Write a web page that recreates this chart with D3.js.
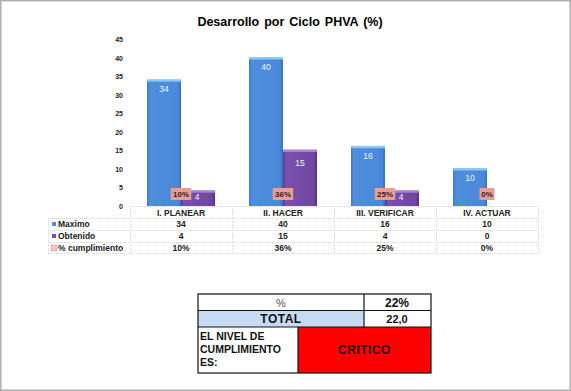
<!DOCTYPE html>
<html><head><meta charset="utf-8">
<script src="https://cdn.jsdelivr.net/npm/d3@7"></script>
<style>body{margin:0;background:#fff}svg{display:block;font-family:"Liberation Sans",Arial,sans-serif}</style>
</head><body><svg id="c" width="571" height="391"></svg>
<script>
const categories = ["I. PLANEAR","II. HACER","III. VERIFICAR","IV. ACTUAR"];
const maximo = [34,40,16,10];
const obtenido = [4,15,4,0];
const cumplimiento = [10,36,25,0];
const yTicks = [0,5,10,15,20,25,30,35,40,45];
const seriesNames = ["Maximo","Obtenido","% cumplimiento"];
const summaryPct = "22%";
const summaryTotal = "22,0";
const nivel = "CRITICO";

const svg = d3.select("#c");
const defs = svg.append("defs");
function grad(id, stops){
  const g = defs.append("linearGradient").attr("id",id).attr("x1","0").attr("x2","1").attr("y1","0").attr("y2","0");
  stops.forEach(s=>g.append("stop").attr("offset",s[0]).attr("stop-color",s[1]));
}
grad("gBlue",[[0,"#3b78c8"],[0.08,"#4f8edd"],[0.9,"#4a89d9"],[1,"#3670bf"]]);
grad("gPurp",[[0,"#5e3590"],[0.08,"#7a50ad"],[0.9,"#6f46a0"],[1,"#573083"]]);

svg.append("rect").attr("x",0.75).attr("y",0.75).attr("width",569.5).attr("height",389.5).attr("fill","#fff").attr("stroke","#b0b0b0").attr("stroke-width",1.5);

svg.append("text").attr("x",290).attr("y",26).attr("text-anchor","middle").attr("font-size",12.5).attr("font-weight","bold").attr("word-spacing","1.5px").text("Desarrollo por Ciclo PHVA (%)");

const x = d3.scaleBand().domain(categories).range([130,538]);
const xs = d3.scaleBand().domain(["Maximo","Obtenido"]).range([0,x.bandwidth()]).paddingInner(0).paddingOuter(0.5);
const y = d3.scaleLinear().domain([0,45]).range([206,39.5]);

const yAxis = d3.axisLeft(y).tickValues(yTicks).tickSize(0).tickPadding(0);
const ga = svg.append("g").attr("transform","translate(123,0)").call(yAxis);
ga.select(".domain").remove();
ga.selectAll("text").attr("font-size",7).attr("font-weight","bold").attr("fill","#222").attr("font-family","'Liberation Sans',Arial,sans-serif");

function drawBars(vals, name, fill, topc){
  const g = svg.append("g");
  categories.forEach((c,i)=>{
    const v = vals[i];
    const x0 = x(c)+xs(name), w = xs.bandwidth();
    const y0 = y(v), h = y(0)-y(v);
    if (h>0){
      g.append("rect").attr("x",x0).attr("y",y0).attr("width",w).attr("height",h).attr("fill",fill);
      g.append("rect").attr("x",x0).attr("y",y0-1).attr("width",w).attr("height",2.5).attr("fill",topc);
    }
  });
}
drawBars(maximo,"Maximo","url(#gBlue)","#86c9f4");
drawBars(obtenido,"Obtenido","url(#gPurp)","#a982d6");

categories.forEach((c,i)=>{
  svg.append("text").attr("x",x(c)+xs("Maximo")+xs.bandwidth()/2).attr("y",y(maximo[i])+12)
    .attr("text-anchor","middle").attr("font-size",8.5).attr("fill","#f2f6ff").text(maximo[i]);
  if (obtenido[i]>0)
    svg.append("text").attr("x",x(c)+xs("Obtenido")+xs.bandwidth()/2+(obtenido[i]<6?-1:0)).attr("y",y(obtenido[i])+(obtenido[i]<6?9:15))
      .attr("text-anchor","middle").attr("font-size",8.5).attr("fill","#f2f6ff").text(obtenido[i]);
});
categories.forEach((c,i)=>{
  const cx = x(c)+x.bandwidth()/2;
  const t = cumplimiento[i]+"%";
  const w = t.length*5.5+4;
  svg.append("rect").attr("x",cx-w/2).attr("y",y(0)-18).attr("width",w).attr("height",12).attr("fill","#e59f98");
  svg.append("text").attr("x",cx).attr("y",y(0)-9).attr("text-anchor","middle").attr("font-size",8).attr("font-weight","bold").attr("fill","#3a2020").text(t);
});

const rowsY = [206,218,230,242,253];
const tg = svg.append("g").attr("stroke","#d4d4d4").attr("stroke-width",1).attr("stroke-dasharray","1,1");
rowsY.forEach((ry,k)=>{
  tg.append("line").attr("x1",k===0?130:48).attr("x2",538).attr("y1",ry+0.5).attr("y2",ry+0.5);
});
[130,232,334,436,538].forEach(vx=>tg.append("line").attr("x1",vx+0.5).attr("x2",vx+0.5).attr("y1",206).attr("y2",253));
tg.append("line").attr("x1",48.5).attr("x2",48.5).attr("y1",218).attr("y2",253);

categories.forEach((c,i)=>{
  const cx = x(c)+x.bandwidth()/2;
  svg.append("text").attr("x",cx).attr("y",215.5).attr("text-anchor","middle").attr("font-size",8.5).attr("font-weight","bold").attr("fill","#222").text(c);
  [maximo[i],obtenido[i],cumplimiento[i]+"%"].forEach((v,r)=>{
    svg.append("text").attr("x",cx).attr("y",rowsY[r+1]+9).attr("text-anchor","middle").attr("font-size",8.5).attr("font-weight","bold").attr("fill","#222").text(v);
  });
});
const keyCol = ["#4a8ee0","#7b4bb0"];
seriesNames.forEach((s,r)=>{
  const ry = rowsY[r+1];
  if (r<2) svg.append("rect").attr("x",52).attr("y",ry+4).attr("width",4).attr("height",4).attr("fill",keyCol[r]);
  else svg.append("rect").attr("x",51).attr("y",ry+3).attr("width",6).attr("height",6).attr("fill","#f2c4c4").attr("stroke","#d88").attr("stroke-width",0.5);
  svg.append("text").attr("x",58).attr("y",ry+9).attr("font-size",8.5).attr("font-weight","bold").attr("fill","#222")
    .attr("xml:space","preserve").text(r===2?"% cumplimiento":s);
});

const S = svg.append("g");
S.append("rect").attr("x",198).attr("y",327).attr("width",100).attr("height",46).attr("fill","#fff");
S.append("rect").attr("x",198).attr("y",310.5).attr("width",166).attr("height",16.5).attr("fill","#c6daf2");
S.append("rect").attr("x",298).attr("y",327).attr("width",133).attr("height",46).attr("fill","#ff0000");
const L = S.append("g").attr("stroke","#111").attr("stroke-width",1.2).attr("fill","none");
L.append("rect").attr("x",198).attr("y",294).attr("width",233).attr("height",79);
[310.5,327].forEach(ly=>L.append("line").attr("x1",198).attr("x2",431).attr("y1",ly).attr("y2",ly));
L.append("line").attr("x1",364).attr("x2",364).attr("y1",294).attr("y2",327);
L.append("line").attr("x1",298).attr("x2",298).attr("y1",327).attr("y2",373);
S.append("text").attr("x",281).attr("y",306.5).attr("text-anchor","middle").attr("font-size",11).attr("fill","#555").text("%");
S.append("text").attr("x",397).attr("y",307).attr("text-anchor","middle").attr("font-size",12).attr("font-weight","bold").attr("fill","#111").text(summaryPct);
S.append("text").attr("x",281).attr("y",323).attr("text-anchor","middle").attr("font-size",12).attr("font-weight","bold").attr("fill","#111").attr("letter-spacing","0.5").text("TOTAL");
S.append("text").attr("x",397).attr("y",323).attr("text-anchor","middle").attr("font-size",11).attr("font-weight","bold").attr("fill","#111").text(summaryTotal);
["EL NIVEL DE","CUMPLIMIENTO","ES:"].forEach((t,k)=>{
  S.append("text").attr("x",200).attr("y",340+k*13).attr("font-size",10.5).attr("font-weight","bold").attr("fill","#111").text(t);
});
S.append("text").attr("x",364.5).attr("y",354).attr("text-anchor","middle").attr("font-size",12).attr("font-weight","bold").attr("fill","#200").attr("letter-spacing","0.5").text(nivel);
</script></body></html>
